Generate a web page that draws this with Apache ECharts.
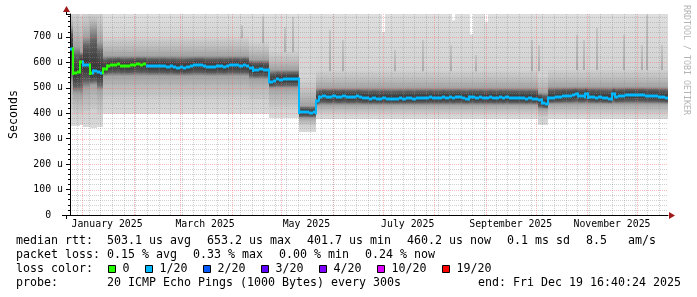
<!DOCTYPE html>
<html><head><meta charset="utf-8">
<script src="https://cdn.jsdelivr.net/npm/echarts@6/dist/echarts.min.js"></script>
<style>html,body{margin:0;padding:0;background:#fff}#c{width:697px;height:297px}</style>
</head><body><div id="c"></div>
<script>
// ---------- data ----------
const START = Date.UTC(2024, 11, 24, 16, 40, 24);
const DAY = 86400000;
const RANGE_DAYS = 360;
const STEP_DAYS = 2;
const END = START + RANGE_DAYS * DAY;

// median rtt (microseconds) per 2-day column
const median = [
  653, 557, 562, 600, 588, 590, 557, 565, 562, 560,
  575, 586, 590, 588, 592, 586, 584, 586, 588, 590,
  592, 588, 593, 586, 585, 587, 584, 586, 585, 582,
  584, 582, 578, 580, 578, 582, 585, 588, 590, 588,
  584, 582, 580, 583, 586, 584, 582, 585, 588, 590,
  588, 586, 588, 585, 578, 568, 570, 572, 570, 570,
  524, 528, 535, 532, 536, 534, 533, 536, 536, 404,
  403, 404, 402, 403, 450, 462, 466, 463, 465, 468,
  464, 462, 466, 463, 465, 462, 466, 462, 460, 458,
  457, 458, 455, 457, 459, 456, 454, 457, 455, 458,
  456, 458, 460, 457, 459, 461, 458, 460, 462, 459,
  461, 459, 462, 460, 463, 461, 464, 462, 460, 454,
  462, 463, 460, 462, 459, 461, 463, 460, 461, 462,
  460, 462, 459, 461, 460, 458, 460, 457, 458, 456,
  455, 452, 440, 436, 458, 460, 462, 465, 467, 468,
  467, 470, 474, 466, 466, 477, 463, 462, 461, 462,
  460, 459, 454, 474, 465, 466, 468, 470, 471, 470,
  472, 470, 471, 468, 467, 466, 467, 465, 462, 460
];
// lost pings (out of 20) per column
const lossPings = [
  1, 0, 0, 0, 1, 1, 0, 1, 1, 1,
  0, 0, 0, 0, 0, 0, 0, 0, 0, 0,
  0, 0, 0, 1, 1, 1, 1, 1, 1, 1,
  1, 1, 1, 1, 1, 1, 1, 1, 1, 1,
  1, 1, 1, 1, 1, 1, 1, 1, 1, 1,
  1, 1, 1, 1, 1, 1, 1, 1, 1, 1,
  1, 1, 1, 1, 1, 1, 1, 1, 1, 1,
  1, 1, 1, 1, 1, 1, 1, 1, 1, 1,
  1, 1, 1, 1, 1, 1, 1, 1, 1, 1,
  1, 1, 1, 1, 1, 1, 1, 1, 1, 1,
  1, 1, 1, 1, 1, 1, 1, 1, 1, 1,
  1, 1, 1, 1, 1, 1, 1, 1, 1, 1,
  1, 1, 1, 1, 1, 1, 1, 1, 1, 1,
  1, 1, 1, 1, 1, 1, 1, 1, 1, 1,
  1, 1, 1, 1, 1, 1, 1, 1, 1, 1,
  1, 1, 1, 1, 1, 1, 1, 1, 1, 1,
  1, 1, 1, 1, 1, 1, 1, 1, 1, 1,
  1, 1, 1, 1, 1, 1, 1, 1, 1, 1
];
// smoke distribution per segment (first column of each segment)
const segFirstCol = [0,   1,   3,   4,   6,   8,   10,  54,  60,  69,  74,  141, 144];
const segMin      = [350, 350, 355, 345, 340, 345, 398, 395, 380, 325, 378, 355, 376];
const segLowQ     = [420, 400, 400, 410, 420, 400, 465, 455, 425, 352, 400, 386, 402];
const segLowMid   = [520, 480, 470, 500, 510, 490, 548, 535, 498, 383, 432, 416, 438];
const segHighMid  = [740, 660, 640, 700, 740, 680, 625, 608, 570, 430, 498, 478, 502];
const segHighQ    = [790, 790, 780, 790, 790, 790, 695, 675, 640, 530, 565, 548, 570];
const segMax      = [790, 790, 790, 790, 790, 790, 790, 790, 790, 790, 790, 790, 790];
// isolated high ping spikes
const spikeDates = ['2025-04-06','2025-04-19','2025-05-02','2025-05-07','2025-05-29','2025-06-06',
  '2025-07-07','2025-07-24','2025-08-10','2025-08-25','2025-09-28','2025-10-02','2025-10-25',
  '2025-10-29','2025-11-06','2025-11-22','2025-12-03','2025-12-06','2025-12-15'];
const spikeTops = [747, 779, 739, 779, 727, 688, 649, 688, 668, 629, 688, 668, 708, 688, 735, 708, 668, 786, 668];
// columns where max ping stayed below the top
const gapDates = ['2025-06-30','2025-08-11','2025-08-22','2025-08-31'];
const gapTops = [720, 765, 710, 760];

const yMax = 790;
const yTicks = [0, 100, 200, 300, 400, 500, 600, 700];
const xLabelMonths = [[2025,0],[2025,2],[2025,4],[2025,6],[2025,8],[2025,10]];
const xLabels = ['January 2025','March 2025','May 2025','July 2025','September 2025','November 2025'];
const lossThresholds = [0, 1, 2, 3, 4, 10, 19];
const lossLabels = ['0', '1/20', '2/20', '3/20', '4/20', '10/20', '19/20'];
const lossColors = ['#26ff00', '#00b8ff', '#0059ff', '#5e00ff', '#7e00ff', '#dd00ff', '#ff0000'];
const statLines = [
  ['median rtt:', '503.1 us avg', '653.2 us max', '401.7 us min', '460.2 us now', '0.1 ms sd', '8.5   am/s'],
  ['packet loss:', '0.15 % avg', '0.33 % max', '0.00 % min', '0.24 % now'],
  ['loss color:'],
  ['probe:', '20 ICMP Echo Pings (1000 Bytes) every 300s']
];
const endText = 'end: Fri Dec 19 16:40:24 2025';

// ---------- layout / style ----------
const GL = 66, GT = 14, GR = 668, GB = 215;
const FONT = '"DejaVu Sans Mono", monospace';
const FS = 11.63;     // legend text
const AFS = 9.85;     // axis labels

function segOf(i){ let s = 0; for (let k = 0; k < segFirstCol.length; k++) if (segFirstCol[k] <= i) s = k; return s; }
function lossColor(l){ let c = 0; for (let k = 0; k < lossThresholds.length; k++) if (lossThresholds[k] <= l) c = k; return lossColors[c]; }
const ts = d => { const [y,m,dd] = d.split('-').map(Number); return Date.UTC(y, m-1, dd, 12); };
const colStart = i => START + i * STEP_DAYS * DAY;

const smokeData = median.map((md, i) => {
  const s = segOf(i);
  return [colStart(i), colStart(i+1), segMin[s], segLowQ[s], Math.min(segLowMid[s], md - 6), md,
          Math.max(segHighMid[s], md + 6), segHighQ[s], segMax[s]];
});
const medianData = median.map((md, i) => [colStart(i), colStart(i+1), md, i ? median[i-1] : md, lossPings[i]]);
const spikeData = spikeDates.map((d, k) => {
  const t = ts(d); const i = Math.floor((t - START) / (STEP_DAYS*DAY));
  return [t, segHighQ[segOf(i)], spikeTops[k]];
});
const gapData = gapDates.map((d, k) => [ts(d), gapTops[k], yMax]);

// grid lines
const vGrid = [];
for (let m = 0; m < 12; m++) vGrid.push([Date.UTC(2025, m, 1), 0, 1]);
for (let t = Date.UTC(2024, 11, 29); t < END; t += 7*DAY) vGrid.push([t, 0, 0]);
const hGrid = [];
for (let v = 20; v < yMax; v += 20) hGrid.push([START, v, v % 100 === 0 ? 1 : 0]);

const xLabelValues = xLabelMonths.map(([y, m]) => Date.UTC(y, m, 16));
const labelMap = {}; xLabelValues.forEach((v, k) => labelMap[v] = xLabels[k]);

const grad = (stops) => new echarts.graphic.LinearGradient(0, 0, 0, 1,
  stops.map((c, k) => ({ offset: k / (stops.length - 1), color: c })));
const C_MID = '#a2a2a2', C_DARK = '#363636';

function renderSmoke(params, api) {
  const t0 = api.value(0), t1 = api.value(1);
  const v = []; for (let k = 2; k <= 8; k++) v.push(api.value(k));
  const [lo, p1, p2, md, p3, p4, hi] = v;
  const x0 = Math.round(api.coord([t0, 0])[0]);
  const x1 = Math.round(api.coord([t1, 0])[0]);
  const Y = val => Math.round(api.coord([t0, val])[1]);
  const band = (a, b, fill) => ({ type:'rect', shape:{x:x0, y:Y(b), width:x1-x0, height:Y(a)-Y(b)}, style:{fill} });
  return { type:'group', children:[
    band(p4, hi, grad(['#dedede', '#d3d3d3'])),
    band(p3, p4, grad(['#d0d0d0', '#bdbdbd', C_MID])),
    band(md, p3, grad([C_MID, '#5e5e5e', '#444444', C_DARK])),
    band(p2, md, grad([C_DARK, '#444444', '#5e5e5e', C_MID])),
    band(p1, p2, grad([C_MID, '#bababa', '#c9c9c9'])),
    band(lo, p1, grad(['#cfcfcf', '#dadada']))
  ]};
}
function renderSpike(params, api) {
  const x = Math.round(api.coord([api.value(0), 0])[0]);
  const yb = api.coord([api.value(0), api.value(1)])[1];
  const yt = api.coord([api.value(0), api.value(2)])[1];
  return { type:'rect', shape:{x:x, y:yt, width:2, height:yb-yt}, style:{fill: grad(['#c6c6c6', '#acacac'])} };
}
function renderGap(params, api) {
  const x = Math.round(api.coord([api.value(0), 0])[0]);
  const yb = api.coord([api.value(0), api.value(1)])[1];
  const yt = api.coord([api.value(0), api.value(2)])[1];
  return { type:'rect', shape:{x:x, y:yt, width:3, height:yb-yt}, style:{fill:'#ffffff'} };
}
function renderMedian(params, api) {
  const t0 = api.value(0), t1 = api.value(1), md = api.value(2), prev = api.value(3);
  const col = lossColor(api.value(4));
  const x0 = Math.round(api.coord([t0, 0])[0]), x1 = Math.round(api.coord([t1, 0])[0]);
  const y = api.coord([t0, md])[1], yp = api.coord([t0, prev])[1];
  const ch = [{ type:'rect', shape:{x:x0, y:Math.round(y)-1.5, width:x1-x0, height:3}, style:{fill:col} }];
  if (Math.abs(y - yp) > 2) {
    const a = Math.min(y, yp), b = Math.max(y, yp);
    ch.push({ type:'rect', shape:{x:x0-1, y:Math.round(a)-1.5, width:2, height:b-a+3}, style:{fill:col} });
  }
  return { type:'group', children: ch };
}
const MAJOR = 'rgba(255,90,90,0.42)', MINOR = 'rgba(140,140,140,0.4)';
function renderVGrid(params, api) {
  const x = Math.round(api.coord([api.value(0), 0])[0]) + 0.5;
  return { type:'line', shape:{x1:x, y1:GT, x2:x, y2:GB},
    style:{stroke: api.value(2) === 1 ? MAJOR : MINOR, lineWidth:1, lineDash:[1,1]} };
}
function renderHGrid(params, api) {
  const y = Math.round(api.coord([START, api.value(1)])[1]) + 0.5;
  return { type:'line', shape:{x1:GL, y1:y, x2:GR, y2:y},
    style:{stroke: api.value(2) === 1 ? MAJOR : MINOR, lineWidth:1, lineDash:[1,1]} };
}

// legend/text graphics
const graphics = [];
const lineY = [241, 255, 269, 283];
const CH = 7.0;
statLines.forEach((pieces, k) => {
  let x = 16;
  pieces.forEach((s, j) => {
    graphics.push({ type:'text', x:x, y:lineY[k],
      style:{ text:s, font: FS + 'px ' + FONT, fill:'#000', verticalAlign:'middle', align:'left' } });
    x = (j === 0) ? 107 : x + CH * s.length + 16;
  });
});
graphics.push({ type:'text', x:478, y:lineY[3], style:{ text:endText, font: FS + 'px ' + FONT, fill:'#000', verticalAlign:'middle', align:'left' } });
let bx = 108;
lossLabels.forEach((lab, k) => {
  graphics.push({ type:'rect', shape:{x:bx + 0.5, y:265.5, width:7, height:7}, style:{fill:lossColors[k], stroke:'#000', lineWidth:1} });
  graphics.push({ type:'text', x:bx + 14.5, y:lineY[2], style:{ text:lab, font: FS + 'px ' + FONT, fill:'#000', verticalAlign:'middle', align:'left' } });
  bx += 30 + CH * lab.length;
});
graphics.push({ type:'text', x:686.5, y:5, rotation:-Math.PI/2,
  style:{ text:'RRDTOOL / TOBI OETIKER', font:'8.3px ' + FONT, fill:'#b4b4b4', verticalAlign:'middle', align:'left' } });
// axis arrows and overhangs
graphics.push({ type:'polygon', shape:{points:[[66.5,6],[63,12],[70,12]]}, style:{fill:'#a01818'} });
graphics.push({ type:'line', shape:{x1:66.5, y1:12, x2:66.5, y2:GT}, style:{stroke:'#000', lineWidth:1} });
graphics.push({ type:'line', shape:{x1:66.5, y1:GB, x2:66.5, y2:219}, style:{stroke:'#000', lineWidth:1} });
graphics.push({ type:'line', shape:{x1:62, y1:GB + 0.5, x2:66, y2:GB + 0.5}, style:{stroke:'#000', lineWidth:1} });
graphics.push({ type:'polygon', shape:{points:[[675,215.5],[669,212],[669,219]]}, style:{fill:'#a01818'} });

const chart = echarts.init(document.getElementById('c'));
chart.setOption({
  animation: false,
  backgroundColor: '#ffffff',
  grid: { left: GL, top: GT, right: 697 - GR, bottom: 297 - GB, containLabel: false },
  xAxis: {
    type: 'value', min: START, max: END, z: 5,
    splitLine: { show: false }, axisTick: { show: false },
    axisLine: { show: true, lineStyle: { color: '#000', width: 1 } },
    axisLabel: { show: true, customValues: xLabelValues, margin: 4, color: '#000',
      fontFamily: '"DejaVu Sans Mono", monospace', fontSize: AFS,
      formatter: v => labelMap[v] || '' }
  },
  yAxis: {
    type: 'value', min: 0, max: yMax, interval: 100, z: 5,
    name: 'Seconds', nameLocation: 'middle', nameGap: 50, nameRotate: 90,
    nameTextStyle: { fontFamily: '"DejaVu Sans Mono", monospace', fontSize: FS, color: '#000' },
    splitLine: { show: false },
    axisLine: { show: true, lineStyle: { color: '#000', width: 1 } },
    axisTick: { show: true, length: 4, lineStyle: { color: '#000' } },
    minorTick: { show: true, splitNumber: 5, length: 2, lineStyle: { color: '#000' } },
    axisLabel: { margin: 7, color: '#000', fontFamily: '"DejaVu Sans Mono", monospace', fontSize: AFS,
      showMaxLabel: false,
      formatter: v => yTicks.indexOf(v) < 0 ? '' : (v === 0 ? '0  ' : v + ' u') }
  },
  series: [
    { type: 'custom', name: 'smoke', renderItem: renderSmoke, data: smokeData, z: 1, clip: true, silent: true },
    { type: 'custom', name: 'spikes', renderItem: renderSpike, data: spikeData, z: 2, clip: true, silent: true },
    { type: 'custom', name: 'gaps', renderItem: renderGap, data: gapData, z: 2, clip: true, silent: true },
    { type: 'custom', name: 'vgrid', renderItem: renderVGrid, data: vGrid, z: 3, clip: true, silent: true },
    { type: 'custom', name: 'hgrid', renderItem: renderHGrid, data: hGrid, z: 3, clip: true, silent: true },
    { type: 'custom', name: 'median rtt', renderItem: renderMedian, data: medianData, z: 6, clip: true, silent: true }
  ],
  graphic: { elements: graphics }
});
</script></body></html>
